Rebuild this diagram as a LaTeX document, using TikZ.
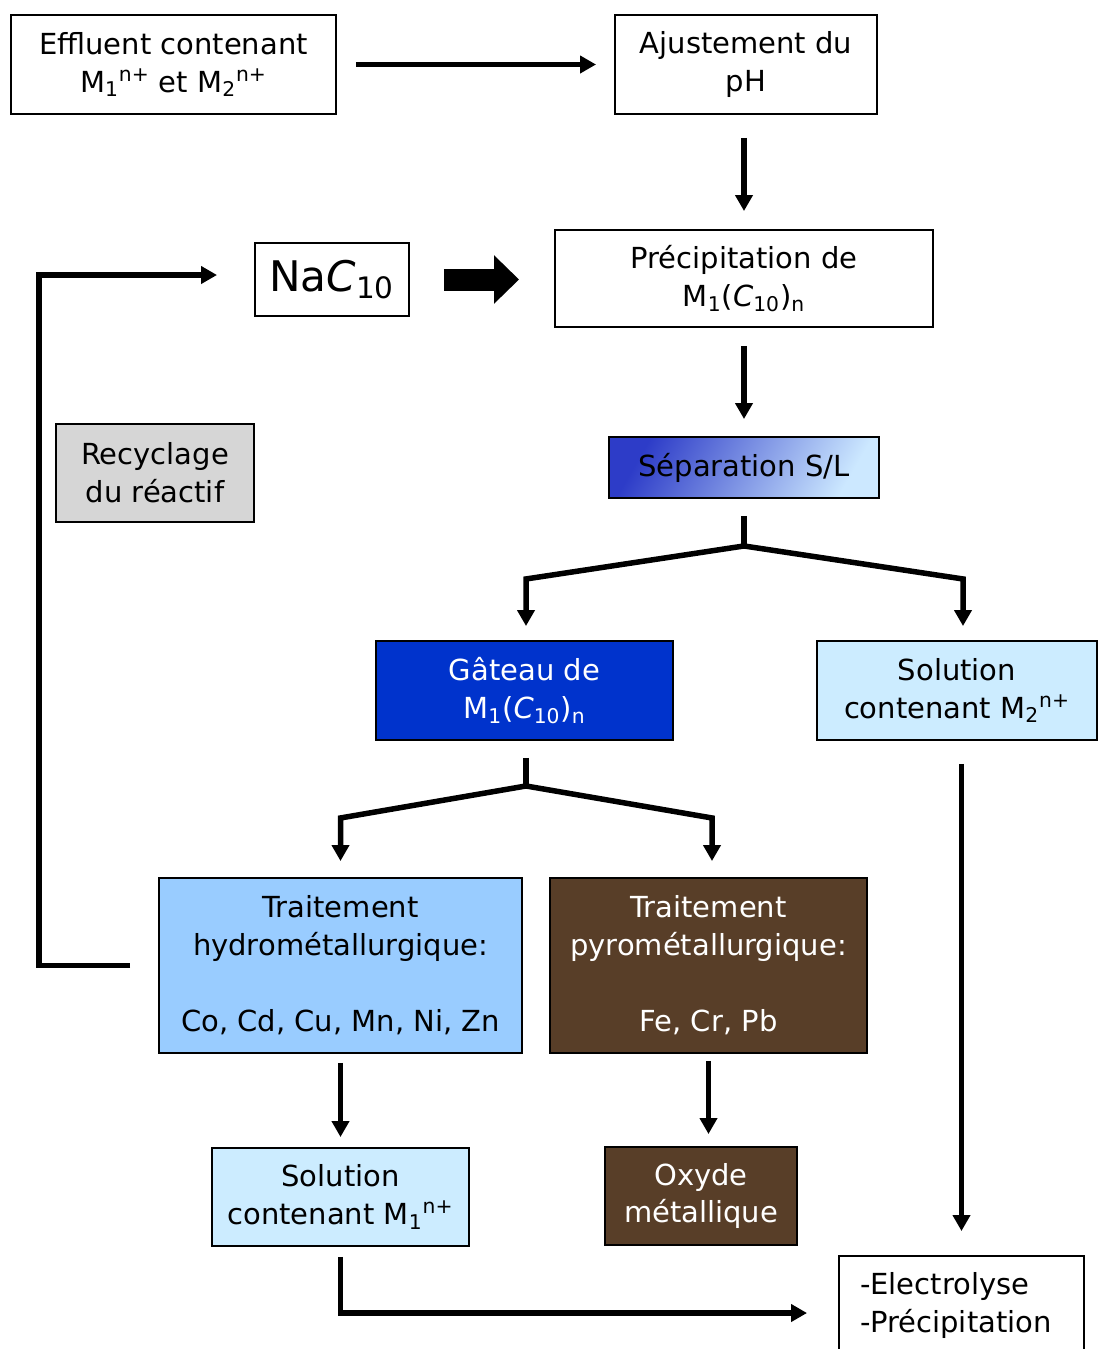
\documentclass[tikz,border=0pt]{standalone}
\usepackage{fontspec}
\setmainfont{DejaVu Sans}
\usetikzlibrary{arrows.meta,calc,positioning}

\definecolor{gateaublue}{RGB}{0,51,204}
\definecolor{solblue}{RGB}{204,236,255}
\definecolor{hydroblue}{RGB}{153,204,255}
\definecolor{pyrobrown}{RGB}{88,62,40}
\definecolor{sepdark}{RGB}{45,60,200}
\definecolor{seplight}{RGB}{204,232,255}
\definecolor{marblegray}{RGB}{214,214,214}

\newcommand{\procLineWidth}{0.11cm}
\newcommand{\metalIon}[2]{M\textsubscript{#1}\textsuperscript{#2}}
\tikzset{
  pr base/.style={font=\fontsize{16.5}{21.6}\selectfont, inner sep=0pt},
  pr box/.style={draw, line width=1.1pt, rectangle, align=center, fill=white},
  pr line/.style={line width=\procLineWidth},
  pr arrow/.style={line width=\procLineWidth, -{Triangle[length=0.32cm,width=0.34cm]}},
  pr fat arrow/.style={line width=0.44cm, -{Triangle[length=0.5cm,width=0.94cm]}},
}

\begin{document}
\begin{tikzpicture}[
    pr base,
    box/.style={pr box},
    arrow/.style={pr arrow}
]
\useasboundingbox (0,0) rectangle (21.96,-26.98);

\node (effl)  [box, minimum width=6.5cm, minimum height=1.98cm] at (3.47,-1.29)
  {Effluent contenant\\ \metalIon{1}{n+} et \metalIon{2}{n+}};
\node (ajust) [box, minimum width=5.24cm, minimum height=1.98cm] at (14.92,-1.29)
  {Ajustement du\\ pH};
\node (prec)  [box, minimum width=7.56cm, minimum height=1.94cm,
  node distance=4.28cm, below of=ajust, xshift=-0.04cm]
  {Précipitation de\\ M\textsubscript{1}(\textit{C}\textsubscript{10})\textsubscript{n}};
\node (sep)   [box, minimum width=5.4cm, minimum height=1.22cm,
  top color=sepdark, bottom color=seplight, shading angle=60,
  node distance=3.78cm, below of=prec]
  {Séparation S/L};
\node (nac)   [box, minimum width=3.08cm, minimum height=1.46cm,
  font=\fontsize{24}{28}\selectfont] at (6.64,-5.59)
  {Na\textit{C}\textsubscript{10}};
\node (recyc) [box, minimum width=3.96cm, minimum height=1.96cm, fill=marblegray] at (3.10,-9.46)
  {Recyclage\\ du réactif};
\node (gateau) [box, minimum width=5.94cm, minimum height=1.98cm,
  fill=gateaublue, text=white] at (10.49,-13.81)
  {Gâteau de\\ M\textsubscript{1}(\textit{C}\textsubscript{10})\textsubscript{n}};
\node (solm2) [box, minimum width=5.6cm, minimum height=1.98cm, fill=solblue] at (19.14,-13.81)
  {Solution\\ contenant \metalIon{2}{n+}};
\node (hydro) [box, minimum width=7.26cm, minimum height=3.5cm, fill=hydroblue] at (6.81,-19.31)
  {Traitement\\ hydrométallurgique:\\[21.6pt] Co, Cd, Cu, Mn, Ni, Zn};
\node (pyro)  [box, minimum width=6.34cm, minimum height=3.5cm,
  fill=pyrobrown, text=white] at (14.17,-19.31)
  {Traitement\\ pyrométallurgique:\\[21.6pt] Fe, Cr, Pb};
\node (solm1) [box, minimum width=5.14cm, minimum height=1.96cm, fill=solblue] at (6.81,-23.94)
  {Solution\\ contenant \metalIon{1}{n+}};
\node (oxyde) [box, minimum width=3.84cm, minimum height=1.96cm,
  fill=pyrobrown, text=white] at (14.02,-23.92)
  {Oxyde\\ métallique};
\node (elec)  [box, minimum height=1.98cm, inner xsep=0.42cm, text width=4.06cm,
  align=left] at (19.23,-26.11)
  {-Electrolyse\\ -Précipitation};

\draw [arrow, shorten <=0.38cm, shorten >=0.36cm] (effl) -- (ajust);
\draw [arrow, shorten <=0.46cm, shorten >=0.36cm] (ajust.south -| prec) -- (prec);
\draw [pr fat arrow, shorten <=0.68cm, shorten >=0.7cm] (nac.east) -- (nac.east -| prec.west);
\draw [arrow, shorten <=0.36cm, shorten >=0.34cm] (prec) -- (sep);

% separation solide / liquide
\draw [pr line] ([yshift=-0.34cm]sep.south) -- ++(0,-0.6) coordinate (sepfork);
\draw [arrow] (sepfork) -- ($(sepfork -| gateau)+(0.03,-0.66)$) -- ([xshift=0.03cm,yshift=0.28cm]gateau.north);
\draw [arrow] (sepfork) -- ($(sepfork -| solm2)+(0.12,-0.66)$) -- ([xshift=0.12cm,yshift=0.28cm]solm2.north);

% traitements du gateau
\draw [pr line] ([xshift=0.03cm,yshift=-0.34cm]gateau.south) -- ++(0,-0.56) coordinate (gatfork);
\draw [arrow] (gatfork) -- ($(gatfork -| hydro)+(0,-0.64)$) -- ([yshift=0.32cm]hydro.north);
\draw [arrow] (gatfork) -- ($(gatfork -| pyro)+(0.07,-0.64)$) -- ([xshift=0.07cm,yshift=0.32cm]pyro.north);

\draw [arrow, shorten <=0.18cm, shorten >=0.2cm] (hydro) -- (solm1);
\draw [arrow, shorten <=0.14cm, shorten >=0.24cm] (pyro.south) -- (pyro.south |- oxyde.north);
\draw [arrow, shorten <=0.46cm, shorten >=0.48cm] (elec.north |- solm2.south) -- (elec);
\draw [arrow, shorten <=0.2cm, shorten >=0.62cm] (solm1.south) |- ($(elec.west)+(0,-0.15)$);

% recyclage du reactif
\draw [arrow, shorten <=0.56cm, shorten >=0.74cm] (hydro.west) -- ++(-2.38,0) |- ($(nac.west)+(0,0.09)$);
\end{tikzpicture}
\end{document}
